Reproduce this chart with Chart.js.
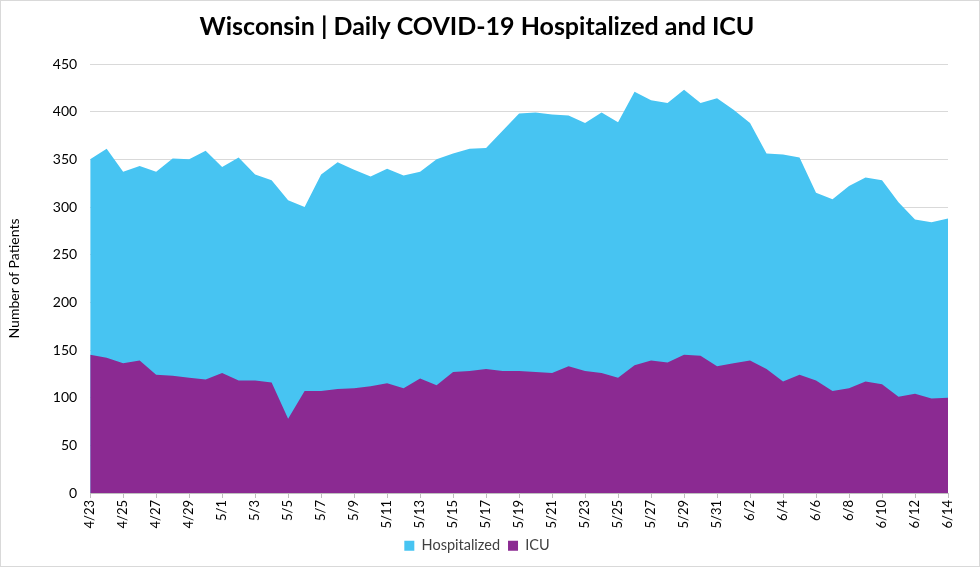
<!DOCTYPE html>
<html>
<head>
<meta charset="utf-8">
<script src="https://cdn.jsdelivr.net/npm/chart.js@4"></script>
<style>
  html, body { margin: 0; padding: 0; background: #fff; }
  canvas { display: block; }
</style>
</head>
<body>
<canvas id="chart" width="980" height="567"></canvas>
<script>
const dates = [
  '4/23', '4/24', '4/25', '4/26', '4/27', '4/28', '4/29', '4/30',
  '5/1', '5/2', '5/3', '5/4', '5/5', '5/6', '5/7', '5/8', '5/9', '5/10',
  '5/11', '5/12', '5/13', '5/14', '5/15', '5/16', '5/17', '5/18', '5/19', '5/20',
  '5/21', '5/22', '5/23', '5/24', '5/25', '5/26', '5/27', '5/28', '5/29', '5/30', '5/31',
  '6/1', '6/2', '6/3', '6/4', '6/5', '6/6', '6/7', '6/8', '6/9', '6/10',
  '6/11', '6/12', '6/13', '6/14'
];

const hospitalized = [
  350, 361, 337, 343, 337, 351, 350, 359,
  342, 352, 334, 328, 307, 300, 334, 347, 339, 332,
  340, 333, 337, 350, 356, 361, 362, 380, 398, 399,
  397, 396, 388, 399, 389, 421, 412, 409, 423, 409, 414,
  402, 388, 356, 355, 352, 315, 308, 322, 331, 328,
  305, 287, 284, 288
];

const icu = [
  145, 142, 136, 139, 124, 123, 121, 119,
  126, 118, 118, 116, 78, 107, 107, 109, 110, 112,
  115, 110, 120, 113, 127, 128, 130, 128, 128, 127,
  126, 133, 128, 126, 121, 134, 139, 137, 145, 144, 133,
  136, 139, 130, 117, 124, 118, 107, 110, 117, 114,
  101, 104, 99, 100
];

const yTicks = [0, 50, 100, 150, 200, 250, 300, 350, 400, 450];

const fontFamily = 'Lato, "Open Sans", sans-serif';

// white background + thin outer border like the Excel chart frame
const frame = {
  id: 'frame',
  beforeDraw(chart) {
    const c = chart.ctx;
    c.save();
    c.fillStyle = '#fff';
    c.fillRect(0, 0, chart.width, chart.height);
    c.strokeStyle = '#d9d9d9';
    c.lineWidth = 1;
    c.strokeRect(0.5, 0.5, chart.width - 1, chart.height - 1);
    c.restore();
  }
};

new Chart(document.getElementById('chart'), {
  type: 'line',
  data: {
    labels: dates,
    datasets: [
      {
        label: 'Hospitalized',
        data: hospitalized,
        backgroundColor: '#47c4f2',
        borderColor: '#47c4f2',
        borderWidth: 0,
        pointRadius: 0,
        tension: 0,
        fill: 'origin',
        order: 1
      },
      {
        label: 'ICU',
        data: icu,
        backgroundColor: '#8b2a92',
        borderColor: '#8b2a92',
        borderWidth: 0,
        pointRadius: 0,
        tension: 0,
        fill: 'origin',
        order: 0
      }
    ]
  },
  options: {
    responsive: false,
    animation: false,
    layout: { padding: { left: 6, right: 32, top: 0, bottom: 4 } },
    plugins: {
      title: {
        display: true,
        text: 'Wisconsin | Daily COVID-19 Hospitalized and ICU',
        color: '#000',
        font: { family: fontFamily, size: 25, weight: 'bold' },
        padding: { top: 12, bottom: 22 }
      },
      legend: {
        position: 'bottom',
        labels: {
          color: '#404040',
          font: { family: fontFamily, size: 14.5 },
          boxWidth: 10,
          boxHeight: 10,
          padding: 8,
          sort: (a, b) => a.datasetIndex - b.datasetIndex
        }
      },
      tooltip: { enabled: false }
    },
    scales: {
      x: {
        offset: false,
        grid: {
          drawOnChartArea: false,
          drawTicks: true,
          tickLength: 5,
          color: ctx => (ctx.index % 2 === 0 ? '#bfbfbf' : 'rgba(0,0,0,0)')
        },
        border: { color: '#bfbfbf' },
        ticks: {
          autoSkip: false,
          maxRotation: 90,
          minRotation: 90,
          color: '#000',
          font: { family: fontFamily, size: 13 },
          padding: 2,
          callback: (v, i) => (i % 2 === 0 ? dates[i] : '')
        }
      },
      y: {
        min: 0,
        max: 450,
        afterBuildTicks: axis => { axis.ticks = yTicks.map(v => ({ value: v })); },
        grid: { color: '#d9d9d9', drawTicks: false },
        border: { display: false },
        ticks: {
          color: '#000',
          font: { family: fontFamily, size: 14 },
          padding: 13
        },
        title: {
          display: true,
          text: 'Number of Patients',
          color: '#000',
          font: { family: fontFamily, size: 14 },
          padding: { top: 0, bottom: 17 }
        }
      }
    }
  },
  plugins: [frame]
});
</script>
</body>
</html>
